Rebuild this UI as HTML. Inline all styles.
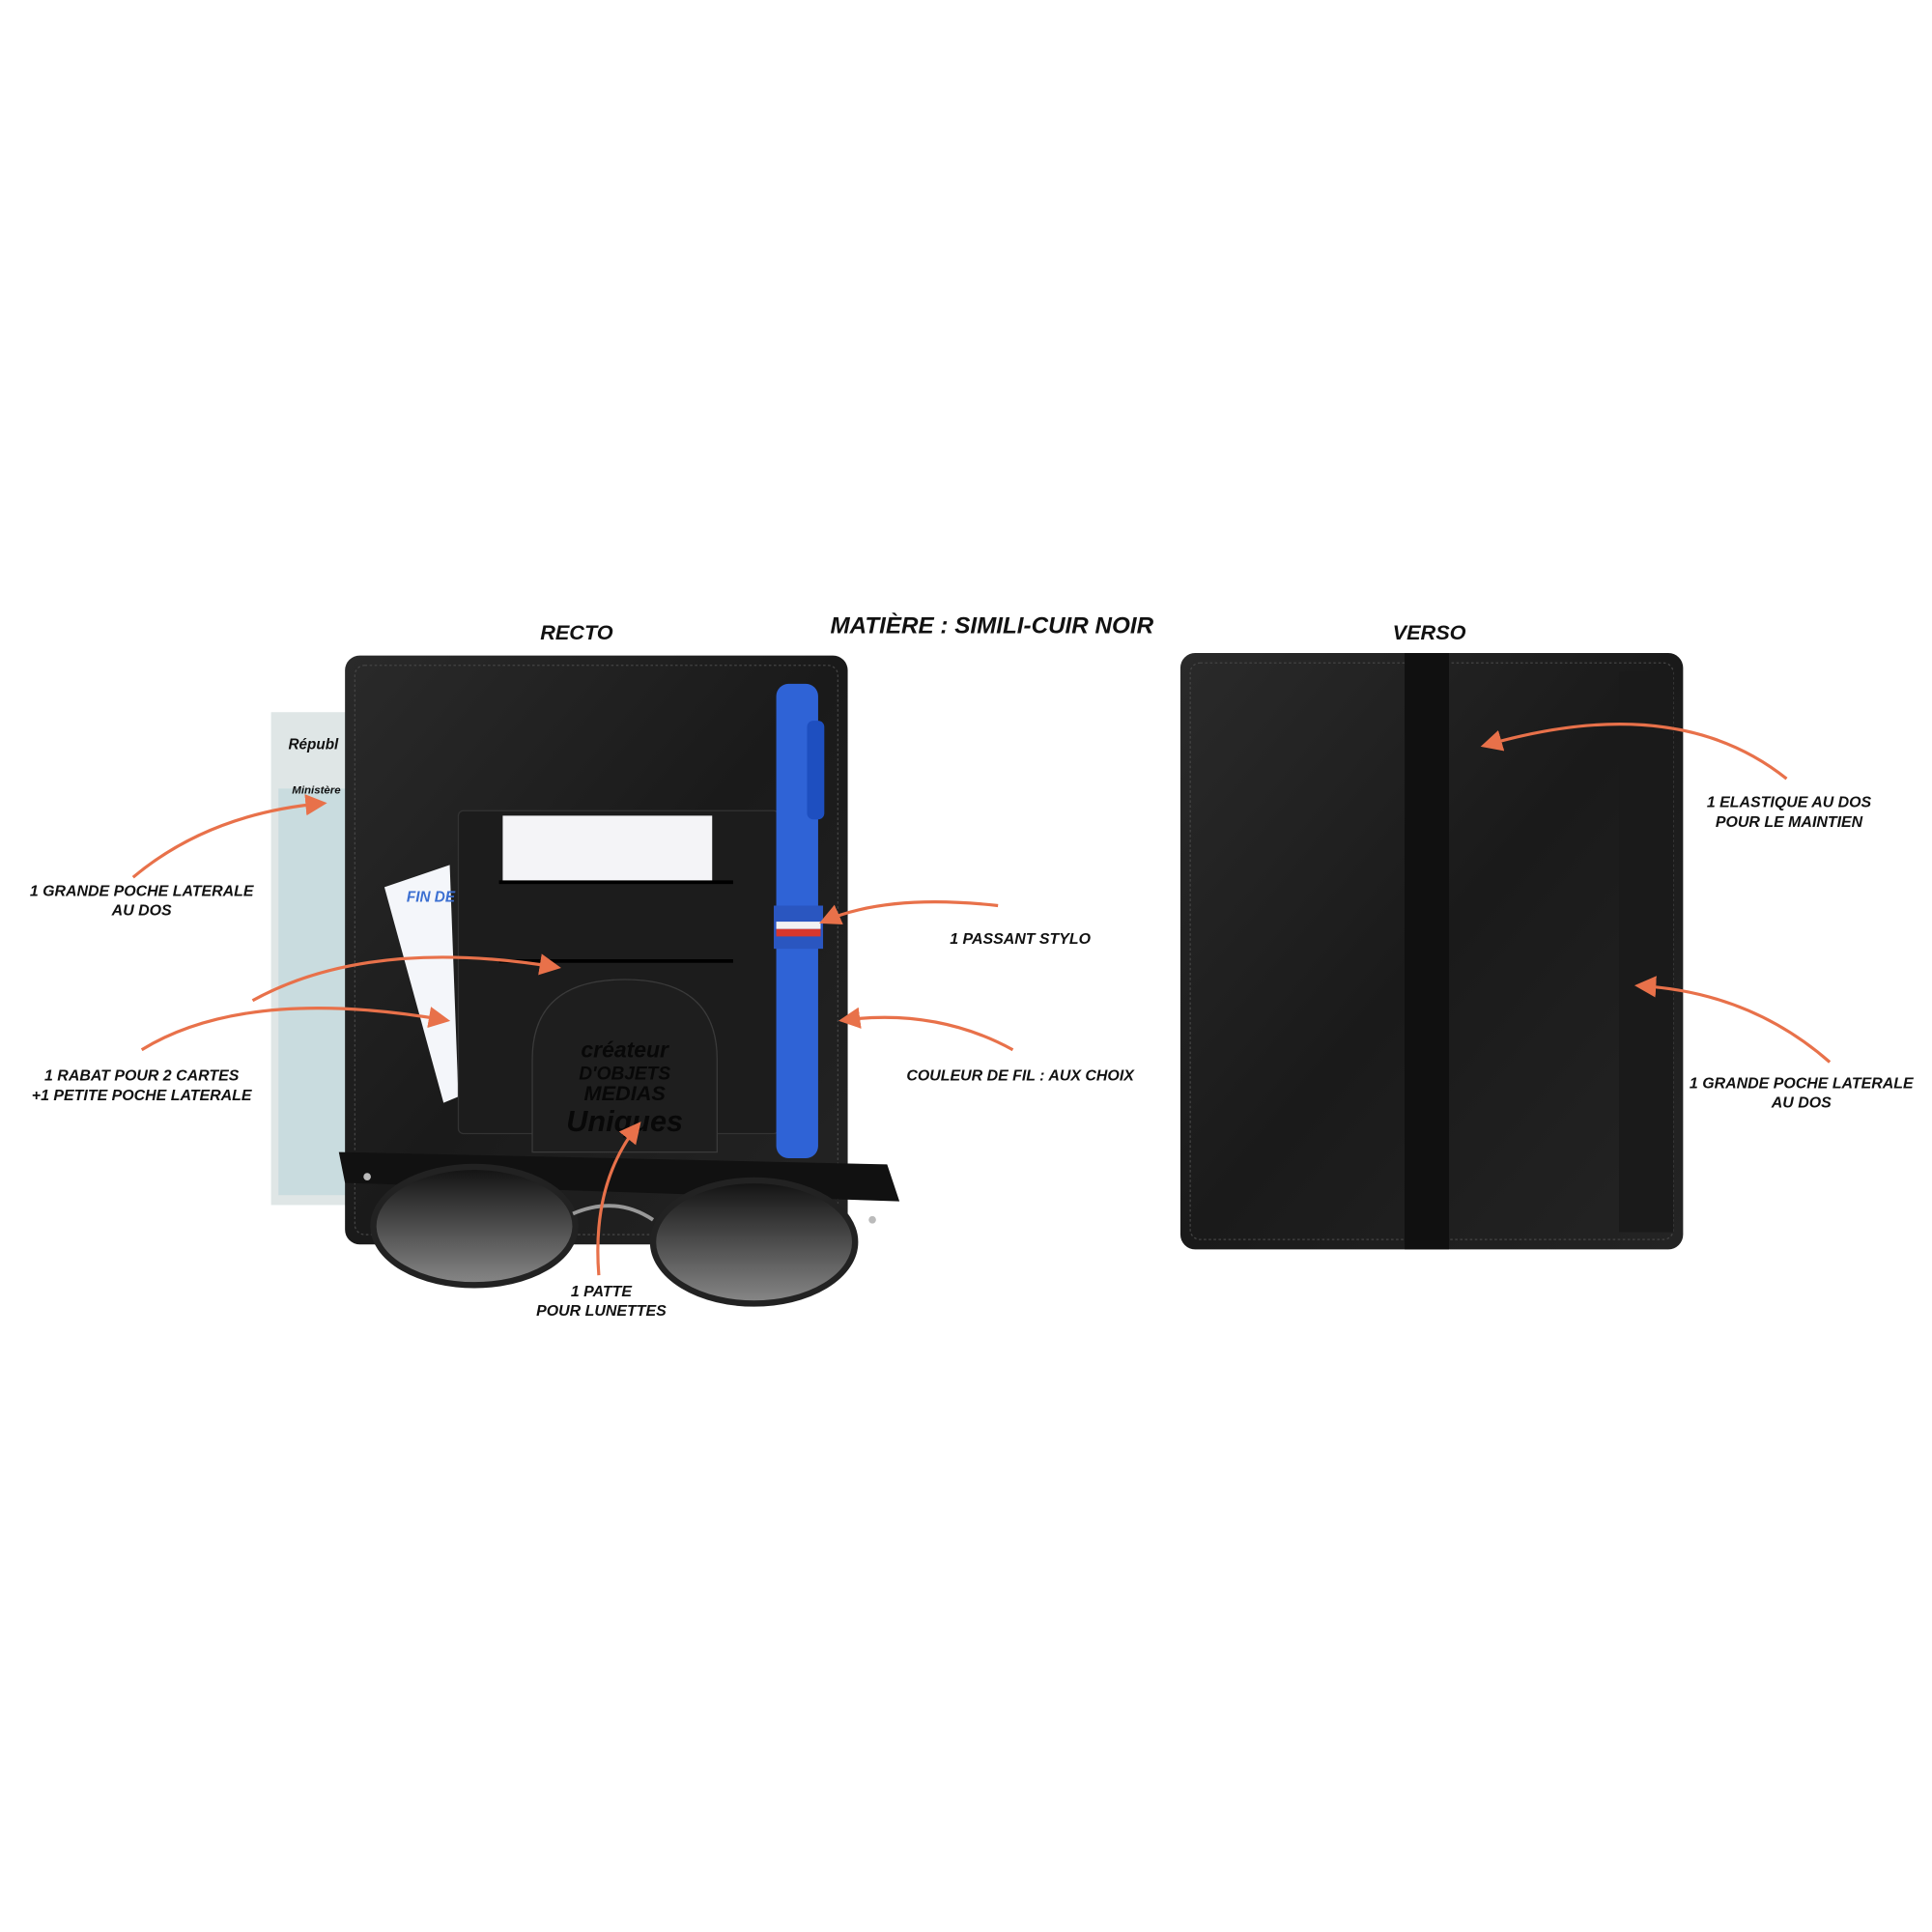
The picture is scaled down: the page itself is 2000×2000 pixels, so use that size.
<!DOCTYPE html>
<html><head><meta charset="utf-8"><style>
html,body{margin:0;padding:0;background:#fff;}
svg{display:block}
text{font-family:"Liberation Sans",sans-serif;font-style:italic;font-weight:bold;fill:#111}
</style></head><body>
<svg width="2000" height="2000" viewBox="0 0 1568 1568" xmlns="http://www.w3.org/2000/svg">
<defs>
<linearGradient id="leather" x1="0" y1="0" x2="1" y2="1">
<stop offset="0" stop-color="#2a2a2a"/><stop offset="0.5" stop-color="#1a1a1a"/><stop offset="1" stop-color="#242424"/></linearGradient>
<linearGradient id="lens" x1="0" y1="0" x2="0" y2="1"><stop offset="0" stop-color="#111"/><stop offset="1" stop-color="#888"/></linearGradient>
<marker id="ah" viewBox="0 0 10 10" refX="8" refY="5" markerWidth="7" markerHeight="7" orient="auto"><path d="M0,0 L10,5 L0,10 z" fill="#e8714a"/></marker>
</defs>

<text x="468" y="519" font-size="17" text-anchor="middle">RECTO</text>
<text x="805" y="514" font-size="19" text-anchor="middle">MATIÈRE : SIMILI-CUIR NOIR</text>
<text x="1160" y="519" font-size="17" text-anchor="middle">VERSO</text>

<rect x="220" y="578" width="65" height="400" fill="#dfe6e6"/>
<rect x="226" y="640" width="55" height="330" fill="#c9dcdf"/>
<text x="234" y="608" font-size="12" font-style="normal">Républ</text>
<text x="237" y="644" font-size="9" font-style="normal">Ministère</text>

<rect x="280" y="532" width="408" height="478" rx="12" fill="url(#leather)"/>
<rect x="288" y="540" width="392" height="462" rx="8" fill="none" stroke="#444" stroke-dasharray="2 2"/>
<polygon points="312,720 365,702 372,890 360,895" fill="#f4f6fa"/>
<text x="330" y="732" font-size="12" style="fill:#3b6fd1" font-style="normal">FIN DE</text>
<rect x="372" y="658" width="260" height="262" rx="4" fill="#1c1c1c" stroke="#333"/>
<rect x="408" y="662" width="170" height="54" fill="#f4f4f7"/>
<line x1="405" y1="716" x2="595" y2="716" stroke="#000" stroke-width="3"/>
<line x1="405" y1="780" x2="595" y2="780" stroke="#000" stroke-width="3"/>
<path d="M432,935 L432,860 Q432,795 507,795 Q582,795 582,860 L582,935 Z" fill="#1e1e1e" stroke="#3a3a3a"/>
<text x="507" y="858" font-size="18" text-anchor="middle" style="fill:#080808">créateur</text>
<text x="507" y="876" font-size="15" text-anchor="middle" style="fill:#080808" font-style="normal">D'OBJETS</text>
<text x="507" y="893" font-size="17" text-anchor="middle" style="fill:#080808" font-style="normal">MEDIAS</text>
<text x="507" y="918" font-size="24" text-anchor="middle" style="fill:#080808">Uniques</text>
<rect x="630" y="555" width="34" height="385" rx="10" fill="#2f63d6"/>
<rect x="655" y="585" width="14" height="80" rx="5" fill="#1e4fc0"/>
<rect x="628" y="735" width="40" height="35" fill="#2a56c0"/>
<rect x="630" y="748" width="36" height="6" fill="#f2f2f2"/>
<rect x="630" y="754" width="36" height="6" fill="#d7372d"/>

<path d="M275,935 L720,945 L730,975 L280,960 Z" fill="#111"/>
<ellipse cx="385" cy="995" rx="82" ry="48" fill="url(#lens)" stroke="#222" stroke-width="5"/>
<ellipse cx="612" cy="1008" rx="82" ry="50" fill="url(#lens)" stroke="#222" stroke-width="5"/>
<path d="M465,985 Q500,970 530,990" stroke="#999" stroke-width="3" fill="none"/>
<circle cx="298" cy="955" r="3" fill="#bbb"/><circle cx="708" cy="990" r="3" fill="#bbb"/>

<rect x="958" y="530" width="408" height="484" rx="12" fill="url(#leather)"/>
<rect x="966" y="538" width="392" height="468" rx="8" fill="none" stroke="#444" stroke-dasharray="2 2"/>
<rect x="1314" y="545" width="44" height="455" fill="#1a1a1a"/>
<rect x="1140" y="530" width="36" height="484" fill="#101010"/>

<g stroke="#e8714a" stroke-width="2.5" fill="none" marker-end="url(#ah)">
<path d="M108,712 Q170,660 262,652"/>
<path d="M205,812 Q300,760 452,785"/>
<path d="M115,852 Q200,800 362,828"/>
<path d="M810,735 Q720,725 668,748"/>
<path d="M822,852 Q760,818 684,828"/>
<path d="M486,1035 Q480,960 518,913"/>
<path d="M1450,632 Q1360,560 1205,605"/>
<path d="M1485,862 Q1420,805 1330,800"/>
</g>

<g font-size="12.5" text-anchor="middle">
<text x="115" y="727">1 GRANDE POCHE LATERALE</text>
<text x="115" y="743">AU DOS</text>
<text x="115" y="877">1 RABAT POUR 2 CARTES</text>
<text x="115" y="893">+1 PETITE POCHE LATERALE</text>
<text x="828" y="766">1 PASSANT STYLO</text>
<text x="828" y="877">COULEUR DE FIL : AUX CHOIX</text>
<text x="488" y="1052">1 PATTE</text>
<text x="488" y="1068">POUR LUNETTES</text>
<text x="1452" y="655">1 ELASTIQUE AU DOS</text>
<text x="1452" y="671">POUR LE MAINTIEN</text>
<text x="1462" y="883">1 GRANDE POCHE LATERALE</text>
<text x="1462" y="899">AU DOS</text>
</g>
</svg>
</body></html>
